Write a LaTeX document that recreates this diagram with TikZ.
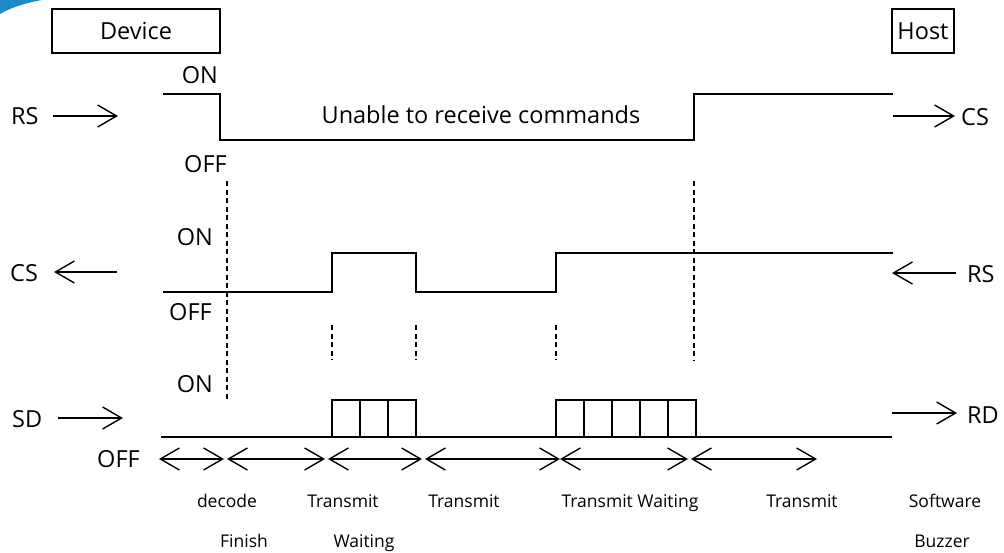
\documentclass[tikz,border=0pt]{standalone}
\usepackage{fontspec}
\setmainfont{Open Sans}
\usetikzlibrary{arrows.meta}
\begin{document}
\begin{tikzpicture}[x=1pt,y=-1pt,
  sig/.style={line width=2.2pt, line join=miter},
  dsh/.style={line width=2pt, dash pattern=on 5pt off 3.5pt},
  tip/.style={},
  arr/.style={line width=1.4pt, -{Straight Barb[length=19pt,width=22pt,line width=1.4pt]}},
  darr/.style={line width=1.4pt, {Straight Barb[length=19pt,width=22pt,line width=1.4pt]}-{Straight Barb[length=19pt,width=22pt,line width=1.4pt]}},
  lbl/.style={font=\fontsize{23.5}{28}\selectfont, inner sep=0pt},
  sml/.style={font=\fontsize{17.5}{21}\selectfont, inner sep=0pt},
  hdr/.style={draw, line width=2.2pt, inner sep=0pt, font=\fontsize{23.5}{28}\selectfont}
]
\useasboundingbox (0,0) rectangle (1004,552);
% corner decoration
\fill[color={rgb,255:red,28;green,140;blue,200}] (0,0) -- (42,0) .. controls (25,3) and (10,8) .. (0,14) -- cycle;

% header boxes
\node[hdr, minimum width=168pt, minimum height=44pt] (dev) at (136,31) {Device};
\node[hdr, minimum width=62pt, minimum height=44pt] (host) at (923,31) {Host};

% labels left
\node[lbl, anchor=base west] (lrs) at (11,124) {RS};
\node[lbl, anchor=base west] (lcs) at (10,281) {CS};
\node[lbl, anchor=base west] (lsd) at (12,427) {SD};
\node[lbl, anchor=base east] (on1) at (218,83) {ON};
\node[lbl, anchor=base east] (off1) at (227,172) {OFF};
\node[lbl, anchor=base east] (on2) at (213,245) {ON};
\node[lbl, anchor=base east] (off2) at (212,320) {OFF};
\node[lbl, anchor=base east] (on3) at (213,392) {ON};
\node[lbl, anchor=base east] (off3) at (140,467) {OFF};
\node[lbl, anchor=base] (unable) at (481,123) {Unable to receive commands};
% labels right
\node[lbl, anchor=base west] (rcs) at (961,125) {CS};
\node[lbl, anchor=base west] (rrs) at (967,282) {RS};
\node[lbl, anchor=base west] (rrd) at (967,423) {RD};

% side arrows
\coordinate (a1) at (53,116); \coordinate (a2) at (118,116);
\draw[arr] (a1) -- (a2);
\coordinate (b1) at (117,272); \coordinate (b2) at (54,272);
\draw[arr] (b1) -- (b2);
\coordinate (c1) at (58,418); \coordinate (c2) at (123,418);
\draw[arr] (c1) -- (c2);
\coordinate (d1) at (893,116); \coordinate (d2) at (955,116);
\draw[arr] (d1) -- (d2);
\coordinate (e1) at (956,273); \coordinate (e2) at (892,273);
\draw[arr] (e1) -- (e2);
\coordinate (f1) at (892,413); \coordinate (f2) at (957,413);
\draw[arr] (f1) -- (f2);

% RS signal
\draw[sig] (163,94) -- (220,94) -- (220,140) -- (694,140) -- (694,94) -- (893,94);
% CS signal
\draw[sig] (163,292) -- (332,292) -- (332,253) -- (416,253) -- (416,292) -- (556,292) -- (556,253) -- (893,253);
% SD signal
\draw[sig] (161,437) -- (892,437);
\draw[sig] (332,437) -- (332,400) -- (416,400) -- (416,437);
\draw[sig] (360,400) -- (360,437);
\draw[sig] (388,400) -- (388,437);
\draw[sig] (556,437) -- (556,400) -- (696,400) -- (696,437);
\foreach \xx in {584,612,640,668} \draw[sig] (\xx,400) -- (\xx,437);

% dashed lines
\draw[dsh] (227,181) -- (227,399);
\draw[dsh] (694,181) -- (694,360);
\foreach \xx in {332,416,556} \draw[dsh] (\xx,325) -- (\xx,360);

% bottom interval arrows
\coordinate (p0) at (159,459);
\coordinate (p1) at (224,459);
\coordinate (p2) at (227,459);
\coordinate (p3) at (325,459);
\coordinate (p4) at (328,459);
\coordinate (p5) at (422,459);
\coordinate (p6) at (425,459);
\coordinate (p7) at (560,459);
\coordinate (p8) at (688,459);
\coordinate (p9) at (691,459);
\coordinate (p10) at (817,459);
\draw[darr] (p0) -- (p1);
\draw[darr] (p2) -- (p3);
\draw[darr] (p4) -- (p5);
\draw[darr] (p6) -- (p7);
\draw[darr] (p7) -- (p8);
\draw[darr] (p9) -- (p10);

% bottom labels
\node[sml, anchor=base] (t1) at (227,507) {decode};
\node[sml, anchor=base] (t1b) at (244,547) {Finish};
\node[sml, anchor=base] (t2) at (343,507) {Transmit};
\node[sml, anchor=base] (t2b) at (364,547) {Waiting};
\node[sml, anchor=base] (t3) at (464,507) {Transmit};
\node[sml, anchor=base] (t4) at (630,507) {Transmit Waiting};
\node[sml, anchor=base] (t5) at (802,507) {Transmit};
\node[sml, anchor=base] (t6) at (945,507) {Software};
\node[sml, anchor=base] (t6b) at (942,547) {Buzzer};
\end{tikzpicture}
\end{document}
